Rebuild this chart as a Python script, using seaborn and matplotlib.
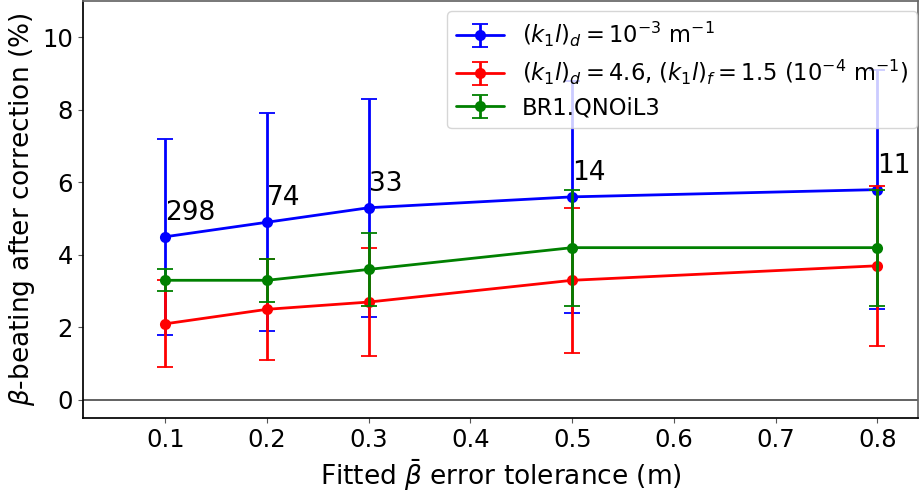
import matplotlib
matplotlib.use("Agg")
import matplotlib.pyplot as plt
import seaborn as sns
import pandas as pd
from matplotlib.legend_handler import HandlerTuple

tolerance = [0.1, 0.2, 0.3, 0.5, 0.8]
blue_vals = [4.5, 4.9, 5.3, 5.6, 5.8]
blue_err = [2.7, 3.0, 3.0, 3.2, 3.3]
red_vals = [2.1, 2.5, 2.7, 3.3, 3.7]
red_err = [1.2, 1.4, 1.5, 2.0, 2.2]
green_vals = [3.3, 3.3, 3.6, 4.2, 4.2]
green_err = [0.3, 0.6, 1.0, 1.6, 1.6]
counts = ["298", "74", "33", "14", "11"]
labels = [r"$(k_1l)_d = 10^{-3}$ m$^{-1}$",
          r"$(k_1l)_d = 4.6$, $(k_1l)_f = 1.5$ $(10^{-4}$ m$^{-1})$",
          "BR1.QNOiL3"]

sns.set_theme(style="ticks")
plt.rcParams['font.family'] = ['DejaVu Sans']
plt.rcParams['mathtext.fontset'] = 'dejavusans'
plt.rcParams['text.color'] = 'black'
plt.rcParams['axes.labelcolor'] = 'black'

fig = plt.figure(figsize=(9.2, 4.96), dpi=100)
ax = fig.add_axes([0.09, 0.157, 0.908, 0.841])

ax.axhline(0, color="#555555", lw=1.3, zorder=1)

series = [(blue_vals, blue_err, "blue"), (red_vals, red_err, "red"),
          (green_vals, green_err, "green")]
handles = []
for i, (vals, err, col) in enumerate(series):
    df = pd.DataFrame({"x": tolerance, "y": vals})
    eb = ax.errorbar(tolerance, vals, yerr=err, fmt='none', ecolor=col,
                     elinewidth=2, capsize=6, capthick=1.3, zorder=2 + 2 * i)
    sns.lineplot(data=df, x="x", y="y", ax=ax, color=col, marker='o',
                 markersize=8, markeredgewidth=0, linewidth=2, legend=False,
                 zorder=3 + 2 * i)
    line = ax.lines[-1]
    handles.append((eb, line))

for x, y, s in zip(tolerance, blue_vals, counts):
    ax.text(x, y + 0.3, s, fontsize=19, ha='left', va='bottom', zorder=10)

ax.set_xlim(0.019, 0.84)
ax.set_ylim(-0.5, 11)
ax.set_xticks([0.1, 0.2, 0.3, 0.4, 0.5, 0.6, 0.7, 0.8])
ax.set_yticks([0, 2, 4, 6, 8, 10])
ax.tick_params(labelsize=17.5, labelcolor='black', color='#555555',
               length=3.5, width=0.8)
for sp in ax.spines.values():
    sp.set_color('black')
    sp.set_visible(True)
ax.spines['top'].set_color('#666666')
ax.spines['right'].set_color('#666666')
ax.set_xlabel(r"Fitted $\bar{\beta}$ error tolerance (m)", fontsize=19)
ax.set_ylabel(r"$\beta$-beating after correction (%)", fontsize=19)

ax.legend(handles, labels, handler_map={tuple: HandlerTuple(ndivide=1, pad=0)},
          loc='upper right', bbox_to_anchor=(0.999, 0.976), borderaxespad=0,
          fontsize=16.3, frameon=True, framealpha=0.8,
          handlelength=2.1, labelspacing=0.4)

fig.savefig("out.png", dpi=100)
